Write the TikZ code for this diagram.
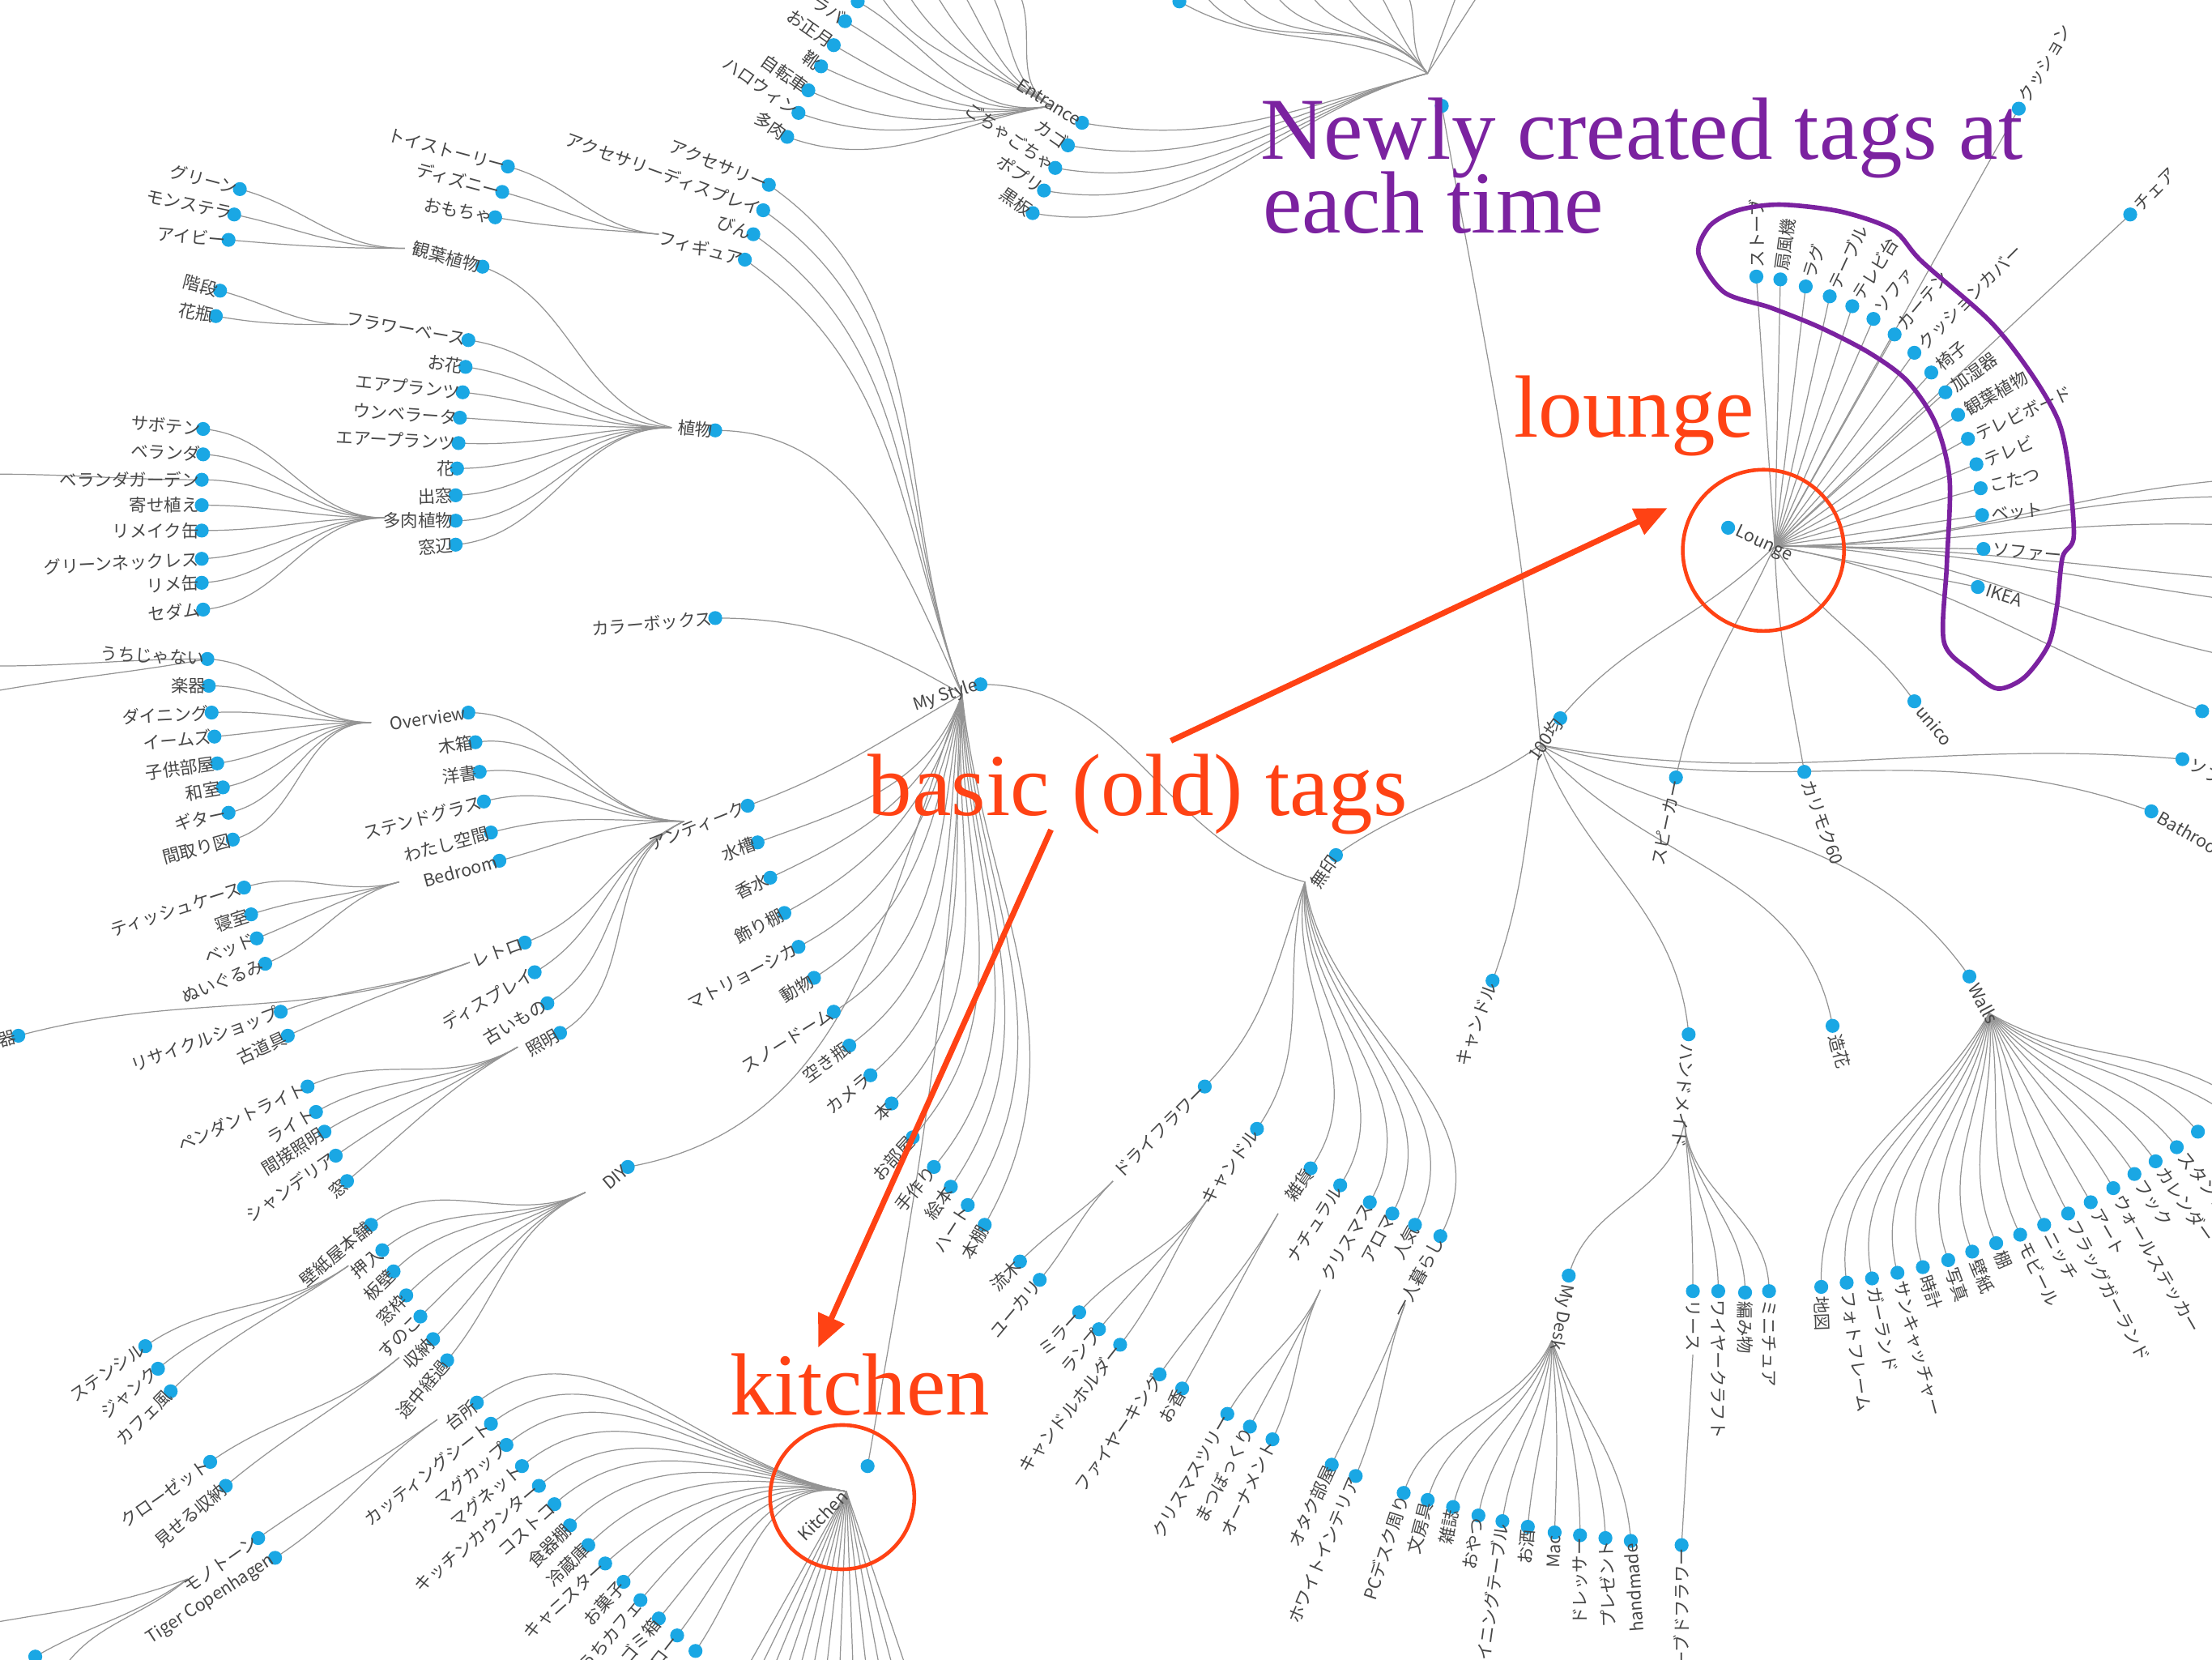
\documentclass[tikz,border=0pt]{standalone}
\usepackage{fontspec}
\setmainfont{Liberation Serif}
\newfontfamily\jpfont{Noto Sans CJK JP}
\usetikzlibrary{arrows.meta}
\definecolor{tagblue}{HTML}{1AA7E4}
\definecolor{annored}{HTML}{FF4214}
\definecolor{annopurple}{HTML}{7B22A0}
\pgfdeclarelayer{bg}
\pgfsetlayers{bg,main}
\tikzset{
  tagdot/.style={circle, fill=tagblue, inner sep=0pt, minimum size=4.9pt},
  taglab/.style={font=\jpfont\fontsize{6.1}{6.5}\selectfont, text=black!72, inner sep=0.8pt},
  tagedge/.style={draw=black!42, line width=0.35pt},
  anno/.style={font=\fontsize{31}{31}\selectfont, inner sep=0pt},
  annoarrow/.style={draw=annored, line width=2pt, -{Triangle[length=0.4cm,width=0.34cm]}},
  ring/.style={draw=annored, line width=1.3pt, circle, inner sep=0pt},
}
% tag dot with its label ending at the dot / starting at the dot
\newcommand{\tagl}[4]{\node[tagdot] (#1) at (#2) {};
  \node[taglab, anchor=east, rotate=#3] (#1-t) at (#1.center) {#4};}
\newcommand{\tagr}[4]{\node[tagdot] (#1) at (#2) {};
  \node[taglab, anchor=west, inner xsep=3pt, rotate=#3] (#1-t) at (#1.center) {#4};}
\newcommand{\tagx}[2]{\node[tagdot] (#1) at (#2) {};}
\newcommand{\fan}[3]{\foreach \nm/\ia in {#3}{\draw[tagedge] (#1) to[out=#2,in=\ia] (\nm.center);}}
\newcommand{\fanx}[2]{\foreach \nm/\oa/\ia in {#2}{\draw[tagedge] (#1) to[out=\oa,in=\ia] (\nm.center);}}
\newcommand{\spokes}[2]{\foreach \nm in {#2}{\draw[tagedge] (#1) -- (\nm.center);}}

\begin{document}
\begin{tikzpicture}[x=0.017417cm, y=0.017417cm]
    \useasboundingbox (0,0) rectangle (1568,-1176);

    % hub points where the links meet
    \coordinate (ms-c) at (682,-492);
    \coordinate (pl-c) at (476,-303);
    \coordinate (kan-c) at (287,-176);
    \coordinate (fv-c) at (247,-230);
    \coordinate (tn-c) at (273,-367);
    \coordinate (fig-c) at (467,-166);
    \coordinate (ant-c) at (485,-582);
    \coordinate (ov-c) at (263,-512);
    \coordinate (bed-c) at (283,-625);
    \coordinate (ret-c) at (333,-682);
    \coordinate (lt-c) at (367,-742);
    \coordinate (diy-c) at (415,-845);
    \coordinate (osi-c) at (247,-897);
    \coordinate (sn-c) at (283,-962);
    \coordinate (kit-c) at (600,-1057);
    \coordinate (dd-c) at (310,-1006);
    \coordinate (mono-c) at (133,-1119);
    \coordinate (ent-c) at (745,-75);
    \coordinate (top-c) at (1012,-52);
    \coordinate (muji-c) at (925,-625);
    \coordinate (dry-c) at (789,-837);
    \coordinate (cdl-c) at (856,-850);
    \coordinate (zk-c) at (906,-860);
    \coordinate (xm-c) at (936,-914);
    \coordinate (hito-c) at (996,-924);
    \coordinate (hk-c) at (1092,-528);
    \coordinate (hm-c) at (1194,-795);
    \coordinate (md-c) at (1100,-950);
    \coordinate (rs-c) at (1200,-960);
    \coordinate (wal-c) at (1410,-718);
    \coordinate (lg-c) at (1258,-387);

    % ends that run off the picture
    \coordinate (vg-o) at (-5,-336);
    \coordinate (uo1) at (-5,-472);
    \coordinate (uo2) at (-5,-490);
    \coordinate (mo1) at (-5,-1150);
    \coordinate (mo2) at (40,-1190);
    \foreach \x [count=\i] in {525,535,...,645} {\coordinate (ko\i) at (\x,-1190);}
    \foreach \x [count=\i] in {620,640,660,680,700,720} {\coordinate (eo\i) at (\x,10);}
    \foreach \x [count=\i] in {850,875,900,925,950,975,995} {\coordinate (to\i) at (\x,10);}
    \coordinate (to8) at (1035,10);
    \coordinate (to9) at (1052,10);
    \foreach \y [count=\i] in {-340,-352,-372,-410,-425,-465} {\coordinate (lo\i) at (1580,\y);}
    \coordinate (wo1) at (1580,-790);
    \coordinate (wo2) at (1580,-775);

    % plants
    \tagl{pl}{507,-305}{-5}{植物}
    \tagl{kan}{342,-189}{-15}{観葉植物}
    \tagl{kan1}{170,-134}{-15}{グリーン}
    \tagl{kan2}{166,-152}{-12}{モンステラ}
    \tagl{kan3}{162,-170}{-5}{アイビー}
    \tagl{fv}{332,-241}{-10}{フラワーベース}
    \tagl{fv1}{156,-206}{-15}{階段}
    \tagl{fv2}{153,-224}{-10}{花瓶}
    \tagl{pl1}{330,-260}{-8}{お花}
    \tagl{pl2}{328,-278}{-6}{エアプランツ}
    \tagl{pl3}{326,-296}{-4}{ウンベラータ}
    \tagl{pl4}{325,-314}{-3}{エアープランツ}
    \tagl{pl5}{324,-332}{0}{花}
    \tagl{pl6}{323,-351}{2}{出窓}
    \tagl{tn}{323,-369}{0}{多肉植物}
    \tagl{pl7}{323,-386}{5}{窓辺}
    \tagl{tn1}{144,-304}{-5}{サボテン}
    \tagl{tn2}{144,-322}{-3}{ベランダ}
    \tagl{tn3}{143,-340}{0}{ベランダガーデン}
    \tagl{tn4}{143,-358}{0}{寄せ植え}
    \tagl{tn5}{143,-376}{0}{リメイク缶}
    \tagl{tn6}{143,-396}{3}{グリーンネックレス}
    \tagl{tn7}{143,-413}{3}{リメ缶}
    \tagl{tn8}{144,-432}{5}{セダム}

    % figures and displays
    \tagl{fig}{528,-184}{-15}{フィギュア}
    \tagl{fig1}{360,-118}{-15}{トイストーリー}
    \tagl{fig2}{356,-136}{-15}{ディズニー}
    \tagl{fig3}{351,-154}{-10}{おもちゃ}
    \tagl{acc}{545,-131}{-22}{アクセサリー}
    \tagl{accd}{541,-149}{-20}{アクセサリーディスプレイ}
    \tagl{bin}{534,-166}{-20}{びん}
    \tagl{cbox}{507,-438}{5}{カラーボックス}

    % my style
    \tagl{ms}{695,-485}{18}{My Style}
    \tagl{ms1}{537,-597}{20}{水槽}
    \tagl{ms2}{546,-622}{25}{香水}
    \tagl{ms3}{556,-647}{28}{飾り棚}
    \tagl{ms4}{566,-671}{28}{マトリョーシカ}
    \tagl{ms5}{577,-693}{32}{動物}
    \tagl{ms6}{591,-717}{32}{スノードーム}
    \tagl{ms7}{602,-741}{36}{空き瓶}
    \tagl{ms8}{617,-762}{40}{カメラ}
    \tagl{ms9}{632,-782}{45}{本}
    \tagl{ms10}{647,-806}{48}{お部屋}
    \tagl{ms11}{662,-827}{50}{手作り}
    \tagl{ms12}{674,-841}{55}{絵本}
    \tagl{ms13}{686,-854}{57}{ハート}
    \tagl{ms14}{698,-868}{60}{本棚}

    % antique
    \tagl{ant}{530,-571}{22}{アンティーク}
    \tagl{ov}{332,-505}{8}{Overview}
    \tagl{ov1}{147,-467}{-3}{うちじゃない}
    \tagl{ov2}{148,-486}{0}{楽器}
    \tagl{ov3}{150,-505}{3}{ダイニング}
    \tagl{ov4}{152,-522}{5}{イームズ}
    \tagl{ov5}{154,-541}{8}{子供部屋}
    \tagl{ov6}{158,-558}{10}{和室}
    \tagl{ov7}{162,-576}{12}{ギター}
    \tagl{ov8}{165,-595}{15}{間取り図}
    \tagl{ant1}{337,-526}{8}{木箱}
    \tagl{ant2}{340,-547}{8}{洋書}
    \tagl{ant3}{343,-568}{15}{ステンドグラス}
    \tagl{ant4}{348,-590}{15}{わたし空間}
    \tagl{bed}{354,-610}{15}{Bedroom}
    \tagl{bed1}{173,-629}{18}{ティッシュケース}
    \tagl{bed2}{178,-648}{18}{寝室}
    \tagl{bed3}{182,-665}{22}{ベッド}
    \tagl{bed4}{188,-683}{22}{ぬいぐるみ}
    \tagl{ret}{372,-668}{20}{レトロ}
    \tagl{ret1}{13,-734}{15}{陶器}
    \tagl{ret2}{199,-717}{20}{リサイクルショップ}
    \tagl{ret3}{204,-734}{25}{古道具}
    \tagl{ant5}{379,-689}{30}{ディスプレイ}
    \tagl{ant6}{388,-711}{30}{古いもの}
    \tagl{lt}{397,-732}{30}{照明}
    \tagl{lt1}{218,-770}{25}{ペンダントライト}
    \tagl{lt2}{224,-788}{30}{ライト}
    \tagl{lt3}{230,-802}{32}{間接照明}
    \tagl{lt4}{238,-819}{35}{シャンデリア}
    \tagl{lt5}{246,-837}{40}{窓}

    % diy
    \tagl{diy}{445,-827}{40}{DIY}
    \tagl{diy1}{263,-868}{40}{壁紙屋本舗}
    \tagl{osi}{271,-886}{40}{押入}
    \tagl{diy2}{279,-901}{45}{板壁}
    \tagl{diy3}{288,-918}{45}{窓枠}
    \tagl{diy4}{298,-933}{45}{すのこ}
    \tagl{sn}{307,-949}{45}{収納}
    \tagl{diy5}{317,-964}{50}{途中経過}
    \tagl{osi1}{103,-954}{35}{ステンシル}
    \tagl{osi2}{112,-970}{40}{ジャンク}
    \tagl{osi3}{121,-986}{45}{カフェ風}
    \tagl{sn1}{149,-1036}{35}{クローゼット}
    \tagl{sn2}{160,-1053}{40}{見せる収納}

    % kitchen
    \tagx{kit}{615,-1039}
    \node[taglab, anchor=east, rotate=45] (kit-t) at (kit-c) {Kitchen};
    \tagl{dd}{338,-994}{38}{台所}
    \tagl{kit1}{348,-1009}{38}{カッティングシート}
    \tagl{kit2}{359,-1024}{40}{マグカップ}
    \tagl{kit3}{370,-1039}{40}{マグネット}
    \tagl{kit4}{382,-1053}{40}{キッチンカウンター}
    \tagl{kit5}{393,-1066}{42}{コストコ}
    \tagl{kit6}{404,-1081}{45}{食器棚}
    \tagl{kit7}{417,-1095}{45}{冷蔵庫}
    \tagl{kit8}{429,-1108}{42}{キャニスター}
    \tagl{kit9}{442,-1121}{48}{お菓子}
    \tagl{kit10}{454,-1134}{50}{うちカフェ}
    \tagl{kit11}{467,-1147}{50}{ゴミ箱}
    \tagl{kit12}{480,-1159}{52}{ストロー}
    \tagx{kit13}{493,-1170}
    \tagl{mono}{183,-1090}{35}{モノトーン}
    \tagl{tig}{195,-1104}{33}{Tiger Copenhagen}
    \tagx{mono1}{25,-1174}

    % entrance
    \tagl{ent}{767,-87}{-32}{Entrance}
    \tagx{ent0}{608,-1}
    \tagl{ent1}{599,-15}{-35}{ラバ}
    \tagl{ent2}{591,-32}{-35}{お正月}
    \tagl{ent3}{582,-47}{-35}{靴}
    \tagl{ent4}{573,-64}{-35}{自転車}
    \tagl{ent5}{566,-80}{-35}{ハロウィン}
    \tagl{ent6}{558,-97}{-35}{多肉}
    \tagx{top}{1022,-75}
    \tagx{top0}{836,-1}
    \tagl{top1}{757,-103}{-35}{カゴ}
    \tagl{top2}{748,-119}{-35}{ごちゃごちゃ}
    \tagl{top3}{740,-135}{-35}{ポプリ}
    \tagl{top4}{732,-151}{-35}{黒板}

    % muji
    \tagl{muji}{947,-606}{55}{無印}
    \tagl{dry}{854,-770}{45}{ドライフラワー}
    \tagl{dry1}{723,-894}{45}{流木}
    \tagl{dry2}{737,-907}{50}{ユーカリ}
    \tagl{cdl}{891,-800}{55}{キャンドル}
    \tagl{cdl1}{765,-930}{48}{ミラー}
    \tagl{cdl2}{779,-942}{50}{ランプ}
    \tagl{cdl3}{794,-953}{52}{キャンドルホルダー}
    \tagl{zk}{929,-828}{55}{雑貨}
    \tagl{zk1}{822,-974}{55}{ファイヤーキング}
    \tagl{zk2}{838,-984}{60}{お香}
    \tagl{mj1}{950,-840}{57}{ナチュラル}
    \tagl{xm}{971,-852}{60}{クリスマス}
    \tagl{xm1}{870,-1002}{60}{クリスマスツリー}
    \tagl{xm2}{886,-1011}{62}{まつぼっくり}
    \tagl{xm3}{902,-1020}{64}{オーナメント}
    \tagl{mj2}{987,-860}{62}{アロマ}
    \tagl{mj3}{1003,-868}{62}{人気}
    \tagl{hito}{1021,-876}{62}{一人暮らし}
    \tagl{hito1}{944,-1038}{65}{オタク部屋}
    \tagl{hito2}{961,-1046}{67}{ホワイトインテリア}

    % 100 yen shop
    \tagl{hk}{1106,-509}{55}{100均}
    \tagl{cd2}{1058,-695}{70}{キャンドル}
    \tagr{hm}{1197,-733}{-95}{ハンドメイド}
    \tagr{zoka}{1299,-727}{-75}{造花}
    \tagr{wal}{1396,-692}{-62}{Walls}
    \tagr{sofa}{1547,-538}{-30}{ソファ}
    \tagr{bath}{1525,-575}{-30}{Bathroom}
    \tagr{md}{1112,-904}{-100}{My Desk}
    \tagl{md1}{995,-1058}{72}{PCデスク周り}
    \tagl{md2}{1012,-1063}{75}{文房具}
    \tagl{md3}{1030,-1068}{78}{雑誌}
    \tagl{md4}{1048,-1074}{80}{おやつ}
    \tagl{md5}{1065,-1078}{82}{ダイニングテーブル}
    \tagl{md6}{1083,-1082}{85}{お酒}
    \tagl{md7}{1102,-1086}{88}{Mac}
    \tagl{md8}{1120,-1088}{90}{ドレッサー}
    \tagl{md9}{1138,-1090}{92}{プレゼント}
    \tagl{md10}{1156,-1092}{94}{handmade}
    \tagr{rs}{1200,-915}{-90}{リース}
    \tagr{hm2}{1218,-915}{-90}{ワイヤークラフト}
    \tagr{hm3}{1237,-916}{-90}{編み物}
    \tagr{hm4}{1254,-915}{-90}{ミニチュア}
    \tagl{rs1}{1192,-1095}{90}{プリザーブドフラワー}
    \tagr{w1}{1291,-912}{-88}{地図}
    \tagr{w2}{1309,-909}{-82}{フォトフレーム}
    \tagr{w3}{1327,-906}{-78}{ガーランド}
    \tagr{w4}{1345,-902}{-75}{サンキャッチャー}
    \tagr{w5}{1363,-898}{-72}{時計}
    \tagr{w6}{1381,-893}{-70}{写真}
    \tagr{w7}{1398,-887}{-68}{壁紙}
    \tagr{w8}{1415,-881}{-66}{棚}
    \tagr{w9}{1432,-875}{-64}{モビール}
    \tagr{w10}{1449,-868}{-62}{ニッチ}
    \tagr{w11}{1466,-860}{-62}{フラッグガーランド}
    \tagr{w12}{1482,-852}{-60}{アート}
    \tagr{w13}{1498,-842}{-60}{ウォールステッカー}
    \tagr{w14}{1513,-832}{-57}{フック}
    \tagr{w15}{1528,-823}{-55}{カレンダー}
    \tagr{w16}{1543,-813}{-52}{スタンド}
    \tagx{w17}{1558,-802}

    % lounge
    \tagr{lg}{1225,-374}{-25}{Lounge}
    \tagr{lg1}{1245,-196}{90}{ストーブ}
    \tagr{lg2}{1262,-198}{82}{扇風機}
    \tagr{lg3}{1280,-203}{72}{ラグ}
    \tagr{lg4}{1297,-210}{65}{テーブル}
    \tagr{lg5}{1313,-217}{58}{テレビ台}
    \tagr{lg6}{1328,-226}{53}{ソファ}
    \tagr{lg7}{1343,-237}{50}{カーテン}
    \tagr{lg8}{1357,-250}{45}{クッションカバー}
    \tagr{lg9}{1369,-264}{40}{椅子}
    \tagr{lg10}{1379,-278}{35}{加湿器}
    \tagr{lg11}{1388,-294}{30}{観葉植物}
    \tagr{lg12}{1395,-311}{25}{テレビボード}
    \tagr{lg13}{1401,-329}{22}{テレビ}
    \tagr{lg14}{1404,-346}{14}{こたつ}
    \tagr{lg15}{1405,-365}{5}{ベット}
    \tagr{lg16}{1406,-389}{-5}{ソファー}
    \tagr{lg17}{1402,-416}{-18}{IKEA}
    \tagr{cush}{1431,-77}{60}{クッション}
    \tagr{chair}{1510,-152}{45}{チェア}
    \tagr{unico}{1357,-497}{-50}{unico}
    \tagl{spk}{1188,-551}{78}{スピーカー}
    \tagr{kari}{1279,-547}{-70}{カリモク60}
    \tagx{lgA}{1561,-504}

    \begin{pgfonlayer}{bg}
        \fanx{ms-c}{acc/110/-35, accd/110/-35, bin/110/-35, fig/110/-35}
        \draw[tagedge] (ms-c) to[out=115,in=0] (pl.center);
        \draw[tagedge] (ms-c) to[out=150,in=0] (cbox.center);
        \draw[tagedge] (ms-c) to[out=210,in=20] (ant.center);
        \draw[tagedge] (ms-c) to[out=250,in=10] (diy.center);
        \draw[tagedge] (ms-c) to[out=268,in=80] (kit.center);
        \fanx{ms-c}{ms1/250/20, ms2/252/25, ms3/254/28, ms4/256/28, ms5/258/32, ms6/260/32, ms7/262/36,
            ms8/264/40, ms9/266/45, ms10/268/48, ms11/270/50, ms12/272/55, ms13/274/57, ms14/276/60}
        \draw[tagedge] (ms.center) to[out=0,in=165] (muji-c);

        \fan{pl-c}{180}{pl1/-8, pl2/-6, pl3/-4, pl4/-3, pl5/0, pl6/2, tn/0, pl7/5}
        \draw[tagedge] (pl-c) to[out=165,in=-20] (kan.center);
        \draw[tagedge] (pl-c) to[out=175,in=-8] (fv.center);
        \fan{kan-c}{180}{kan1/-15, kan2/-12, kan3/-5}
        \fan{fv-c}{180}{fv1/-15, fv2/-10}
        \fan{tn-c}{180}{tn1/-5, tn2/-3, tn3/0, tn4/0, tn5/0, tn6/3, tn7/3, tn8/5}
        \fan{fig-c}{175}{fig1/-15, fig2/-15, fig3/-10}
        \draw[tagedge] (vg-o) to[out=0,in=180] (tn3.center);

        \fan{ant-c}{180}{ov/0, ant1/8, ant2/8, ant3/15, ant4/15, bed/15}
        \fan{ant-c}{205}{ret/20, ant5/30, ant6/30, lt/30}
        \fan{ov-c}{180}{ov1/-3, ov2/0, ov3/3, ov4/5, ov5/8, ov6/10, ov7/12, ov8/15}
        \draw[tagedge] (uo1) to[out=0,in=180] (ov1.center);
        \draw[tagedge] (uo2) to[out=10,in=190] (ov1.center);
        \fan{bed-c}{195}{bed1/18, bed2/18, bed3/22, bed4/22}
        \fan{ret-c}{200}{ret1/15, ret2/20, ret3/25}
        \fan{lt-c}{210}{lt1/25, lt2/30, lt3/32, lt4/35, lt5/40}

        \fan{diy-c}{205}{diy1/40, osi/40, diy2/45, diy3/45, diy4/45, sn/45, diy5/50}
        \fan{osi-c}{215}{osi1/35, osi2/40, osi3/45}
        \fan{sn-c}{220}{sn1/35, sn2/40}

        \fan{kit-c}{170}{dd/38, kit1/38, kit2/40, kit3/40, kit4/40, kit5/42, kit6/45, kit7/45,
            kit8/42, kit9/48, kit10/50, kit11/50, kit12/52, kit13/55}
        \foreach \i in {1,...,13} {\draw[tagedge] (kit-c) -- (ko\i);}
        \fan{dd-c}{215}{mono/35, tig/33}
        \draw[tagedge] (mono-c) to[out=215,in=30] (mono1.center);
        \draw[tagedge] (mono-c) to[out=200,in=10] (mo1);
        \draw[tagedge] (mono-c) to[out=220,in=60] (mo2);

        \fan{ent-c}{190}{ent0/-30, ent1/-30, ent2/-30, ent3/-25, ent4/-25, ent5/-20, ent6/-20}
        \foreach \i in {1,...,6} {\draw[tagedge] (ent-c) to[out=150,in=-60] (eo\i);}
        \fan{top-c}{195}{ent/-10, top1/-10, top2/-10, top3/-10, top4/-10}
        \draw[tagedge] (top-c) to[out=150,in=-30] (top0.center);
        \foreach \i in {1,...,7} {\draw[tagedge] (top-c) to[out=130,in=-60] (to\i);}
        \draw[tagedge] (top-c) -- (to8);
        \draw[tagedge] (top-c) -- (to9);
        \draw[tagedge] (top.center) to[out=-80,in=95] (hk-c);

        \fanx{muji-c}{dry/-110/45, cdl/-105/55, zk/-100/55, mj1/-95/57, xm/-92/60, mj2/-88/62,
            mj3/-85/62, hito/-82/62}
        \draw[tagedge] (muji.center) to[out=35,in=215] (hk-c);
        \fan{dry-c}{225}{dry1/45, dry2/50}
        \fan{cdl-c}{235}{cdl1/48, cdl2/50, cdl3/52}
        \fan{zk-c}{240}{zk1/55, zk2/60}
        \fan{xm-c}{245}{xm1/60, xm2/62, xm3/64}
        \fan{hito-c}{250}{hito1/65, hito2/67}

        \draw[tagedge] (hk.center) to[out=50,in=225] (lg-c);
        \fanx{hk-c}{cd2/-100/70, hm/-70/95, zoka/-50/100, wal/-30/125, sofa/-10/175, bath/-15/160}
        \draw[tagedge] (hm-c) to[out=-100,in=75] (md.center);
        \fan{hm-c}{-85}{rs/90, hm2/90, hm3/90, hm4/90}
        \draw[tagedge] (rs-c) -- (rs1.center);
        \fanx{md-c}{md1/-115/72, md2/-110/75, md3/-105/78, md4/-100/80, md5/-95/82, md6/-90/85,
            md7/-85/88, md8/-80/90, md9/-75/92, md10/-70/94}
        \fanx{wal-c}{w1/-120/92, w2/-115/98, w3/-110/102, w4/-105/105, w5/-100/108, w6/-95/110,
            w7/-90/112, w8/-85/114, w9/-80/116, w10/-75/118, w11/-70/118, w12/-65/120,
            w13/-60/120, w14/-55/123, w15/-50/125, w16/-45/128, w17/-40/130, wo1/-35/145, wo2/-30/150}

        \spokes{lg-c}{lg1, lg2, lg3, lg4, lg5, lg6, lg7, lg8, lg9, lg10, lg11, lg12, lg13, lg14,
            lg15, lg16, lg17, cush, chair}
        \draw[tagedge] (lg-c) to[out=-60,in=125] (unico.center);
        \draw[tagedge] (lg-c) to[out=-115,in=78] (spk.center);
        \draw[tagedge] (lg-c) to[out=-88,in=100] (kari.center);
        \draw[tagedge] (lg-c) to[out=-10,in=160] (lgA.center);
        \fan{lg-c}{0}{lo1/185, lo2/180, lo3/178, lo4/175, lo5/172, lo6/168}
    \end{pgfonlayer}

    % annotations
    \draw[annopurple, line width=1.6pt] plot[smooth cycle, tension=0.5] coordinates {
        (1222,-207) (1204,-180) (1212,-160) (1232,-149) (1262,-145) (1305,-150) (1342,-163)
        (1362,-185) (1411,-228) (1440,-265) (1459,-298) (1466,-330) (1470,-380) (1462,-395)
        (1458,-430) (1452,-457) (1435,-480) (1416,-488) (1398,-476) (1378,-455) (1380,-400)
        (1382,-340) (1372,-300) (1352,-270) (1325,-250) (1290,-232) (1255,-218)};
    \node[ring, minimum size=1.99cm] (lring) at (1250,-390) {};
    \node[ring, minimum size=1.78cm] (kring) at (597,-1061) {};
    \node[anno, text=annopurple, anchor=base west] (newly) at (893,-113) {Newly created tags at};
    \node[anno, text=annopurple, anchor=base west] (eachtime) at (895,-165) {each time};
    \node[anno, text=annored, anchor=base west] (loungetxt) at (1073,-310) {lounge};
    \node[anno, text=annored, anchor=base west] (basic) at (615,-578) {basic (old) tags};
    \node[anno, text=annored, anchor=base west] (kitchentxt) at (517,-1003) {kitchen};
    \coordinate (a1s) at (830,-525);
    \coordinate (a1e) at (1182,-360);
    \coordinate (a2s) at (745,-588);
    \coordinate (a2e) at (580,-955);
    \draw[annoarrow] (a1s) -- (a1e);
    \draw[annoarrow] (a2s) -- (a2e);
\end{tikzpicture}
\end{document}
